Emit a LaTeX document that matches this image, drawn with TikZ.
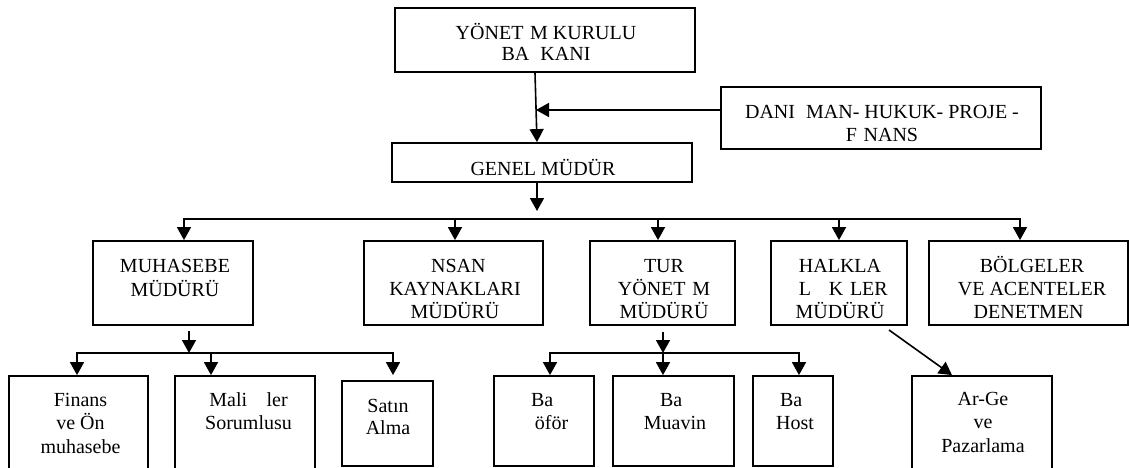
\documentclass[tikz,border=0pt]{standalone}
\usepackage{fontspec}
\setmainfont{Liberation Serif}
\usetikzlibrary{arrows.meta,calc}
\newcommand{\ml}[1]{\begin{tabular}[t]{@{}c@{}}#1\end{tabular}}
\begin{document}
\begin{tikzpicture}[x=1pt,y=-1pt,
  box/.style={draw,line width=1.8pt,inner sep=0pt,rectangle},
  txt/.style={anchor=base,inner sep=0pt,font=\fontsize{20}{23}\selectfont},
  conn/.style={line width=1.6pt,line cap=rect},
  arr/.style={line width=1.6pt,-{Triangle[length=13pt,width=14pt]}}]
\fill[white] (0,0) rectangle (1129,468);
\path[use as bounding box] (0,0) rectangle (1129,468);
\clip (0,0) rectangle (1129,468);
% boxes
\node[box,minimum width=300pt,minimum height=64pt] (top) at (545,40) {};
\node[box,minimum width=320pt,minimum height=62pt] (dan) at (881,118) {};
\node[box,minimum width=300pt,minimum height=39pt] (genel) at (542,162.5) {};
\node[box,minimum width=160pt,minimum height=84pt] (muh) at (173,283) {};
\node[box,minimum width=179pt,minimum height=84pt] (insan) at (453.5,283) {};
\node[box,minimum width=145pt,minimum height=84pt] (tur) at (662.5,283) {};
\node[box,minimum width=136pt,minimum height=84pt] (halk) at (839,283) {};
\node[box,minimum width=199pt,minimum height=84pt] (bolg) at (1028.5,283) {};
\node[box,minimum width=139pt,minimum height=114pt] (fin) at (78.5,433) {};
\node[box,minimum width=140pt,minimum height=114pt] (mali) at (245,433) {};
\node[box,minimum width=91pt,minimum height=85pt] (satin) at (387.5,423.5) {};
\node[box,minimum width=100pt,minimum height=90pt] (bso) at (544,421) {};
\node[box,minimum width=121pt,minimum height=90pt] (bmu) at (673.5,421) {};
\node[box,minimum width=80pt,minimum height=90pt] (bho) at (793,421) {};
\node[box,minimum width=140pt,minimum height=114pt] (arge) at (982,433) {};
% texts
\node[txt,font=\fontsize{20}{21}\selectfont] at (546,40) {\ml{YÖNET\phantom{İ}M KURULU\\BA\phantom{Ş}KANI}};
\node[txt,font=\fontsize{20}{24}\selectfont] at (882,118) {\ml{DANI\phantom{Ş}MAN- HUKUK- PROJE -\\F\phantom{İ}NANS}};
\node[txt] at (543,175) {GENEL MÜDÜR};
\node[txt,font=\fontsize{20}{24}\selectfont] at (175,272) {\ml{MUHASEBE\\MÜDÜRÜ}};
\node[txt] at (455,272) {\ml{\phantom{İ}NSAN\\KAYNAKLARI\\MÜDÜRÜ}};
\node[txt] at (664,272) {\ml{TUR\\YÖNET\phantom{İ}M\\MÜDÜRÜ}};
\node[txt] at (840,272) {\ml{HALKLA\\\phantom{İ}L\phantom{İŞ}K\phantom{İ}LER\\MÜDÜRÜ}};
\node[txt] at (1032,272) {\ml{BÖLGELER\\VE ACENTELER\\DENETMEN\phantom{İ}}};
\node[txt,font=\fontsize{20}{23.5}\selectfont] at (80.5,406) {\ml{Finans\\ve Ön\\muhasebe}};
\node[txt,font=\fontsize{20}{23.5}\selectfont] at (248.5,406) {\ml{Mali \phantom{İş}ler\\Sorumlusu}};
\node[txt,font=\fontsize{20}{22}\selectfont] at (388,412) {\ml{Satın\\Alma}};
\node[txt,font=\fontsize{20}{23.5}\selectfont] at (546,406) {\ml{Ba\phantom{ş}\\\phantom{Ş}öför}};
\node[txt,font=\fontsize{20}{23.5}\selectfont] at (675,406) {\ml{Ba\phantom{ş}\\Muavin}};
\node[txt,font=\fontsize{20}{23.5}\selectfont] at (795,406) {\ml{Ba\phantom{ş}\\Host}};
\node[txt,font=\fontsize{20}{23.5}\selectfont] at (983,405) {\ml{Ar-Ge\\ve\\Pazarlama}};
% top connectors
\draw[arr] ([xshift=-10pt]top.south) -- ([xshift=-5pt]genel.north);
\coordinate (j) at (536,110);
\draw[arr] ([yshift=8pt]dan.west) -- (j);
\coordinate (g) at (537,211);
\draw[arr] ([xshift=-5pt]genel.south) -- (g);
% main bus
\coordinate (b1) at (184,219);
\coordinate (b2) at (1020,219);
\draw[conn] (b1) -- (b2);
\draw[arr] (b1) -- (b1 |- muh.north);
\draw[arr] ([xshift=1.5pt]insan.north |- b1) -- ([xshift=1.5pt]insan.north);
\draw[arr] ([xshift=-4.5pt]tur.north |- b1) -- ([xshift=-4.5pt]tur.north);
\draw[arr] (halk.north |- b1) -- (halk.north);
\draw[arr] (b2) -- (b2 |- bolg.north);
% left group
\coordinate (l1) at (77,353);
\coordinate (l2) at (393,353);
\draw[arr] ([shift={(16pt,-5pt)}]muh.south) -- ([xshift=16pt]muh.south |- l1);
\draw[conn] (l1) -- (l2);
\draw[arr] (l1) -- (l1 |- fin.north);
\draw[arr] ([xshift=-34pt]mali.north |- l1) -- ([xshift=-34pt]mali.north);
\draw[arr] (l2) -- (l2 |- fin.north);
% right group
\coordinate (r1) at (550,353);
\coordinate (r2) at (799,353);
\draw[arr] ([shift={(0.5pt,-6pt)}]tur.south) -- ([xshift=0.5pt]tur.south |- r1);
\draw[conn] (r1) -- (r2);
\draw[arr] (r1) -- (r1 |- bso.north);
\draw[arr] ([xshift=-10.5pt]bmu.north |- r1) -- ([xshift=-10.5pt]bmu.north);
\draw[arr] (r2) -- (r2 |- bho.north);
% diagonal
\coordinate (d) at (889,330);
\draw[arr] (d) -- ([xshift=-30pt]arge.north);
\end{tikzpicture}
\end{document}
